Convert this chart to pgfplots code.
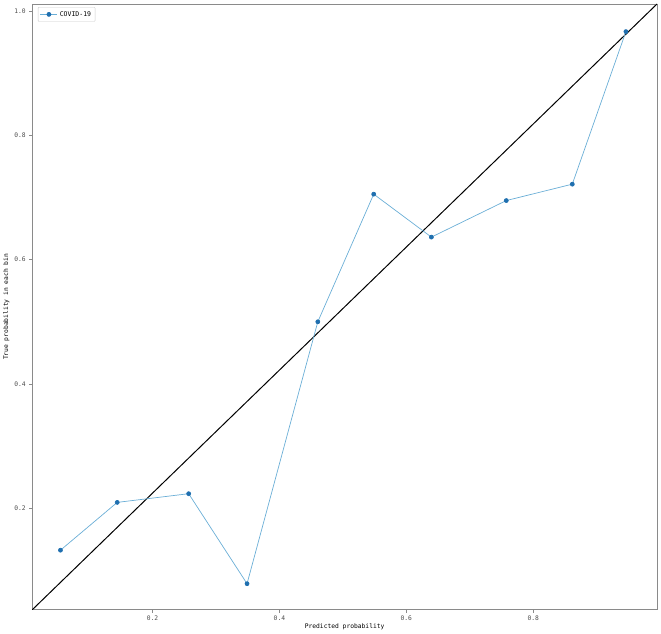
\documentclass[border=0pt]{standalone}
\usepackage{pgfplots}
\pgfplotsset{compat=1.18}
\usepackage{fontspec}
\setmainfont{DejaVu Sans Mono}
\definecolor{lineblue}{HTML}{6AAED6}
\definecolor{markblue}{HTML}{1F6FAF}
\definecolor{framegray}{HTML}{8A8A8A}
\begin{document}
\begin{tikzpicture}
\begin{axis}[
    scale only axis,
    width=625pt, height=606pt,
    xmin=0.0105, xmax=0.995,
    ymin=0.036, ymax=1.012,
    xtick={0.2,0.4,0.6,0.8},
    ytick={0.2,0.4,0.6,0.8,1.0},
    xticklabels={0.2,0.4,0.6,0.8},
    yticklabels={0.2,0.4,0.6,0.8,1.0},
    tick align=outside,
    tick pos=left,
    major tick length=3pt,
    tick style={framegray, line width=0.5pt},
    axis line style={framegray, line width=0.8pt},
    ticklabel style={font=\fontsize{6.3}{7}\selectfont, text=black!70},
    xlabel={Predicted probability},
    ylabel={True probability in each bin},
    label style={font=\fontsize{6.3}{7}\selectfont},
    xlabel style={yshift=4pt},
    ylabel style={yshift=-2pt},
    legend pos=north west,
    legend style={font=\fontsize{6.5}{7}\selectfont, draw=black!20, rounded corners=1pt,
        at={(0.009,0.995)}, inner sep=2pt},
    legend cell align=left,
]
\addplot[black, line width=1pt, forget plot] coordinates {(0.0105,0.036) (0.995,1.012)};
\addplot[lineblue, line width=0.7pt, mark=*, mark size=2pt,
    mark options={fill=markblue, draw=markblue}] coordinates {
    (0.055,0.132) (0.1444,0.209) (0.257,0.223) (0.349,0.078)
    (0.4605,0.500) (0.5486,0.7056) (0.6395,0.6364) (0.7575,0.6953)
    (0.8615,0.7217) (0.946,0.9675)
};
\legend{COVID-19}
\end{axis}
\path (current axis.north east) ++(4pt,4pt);
\end{tikzpicture}
\end{document}
